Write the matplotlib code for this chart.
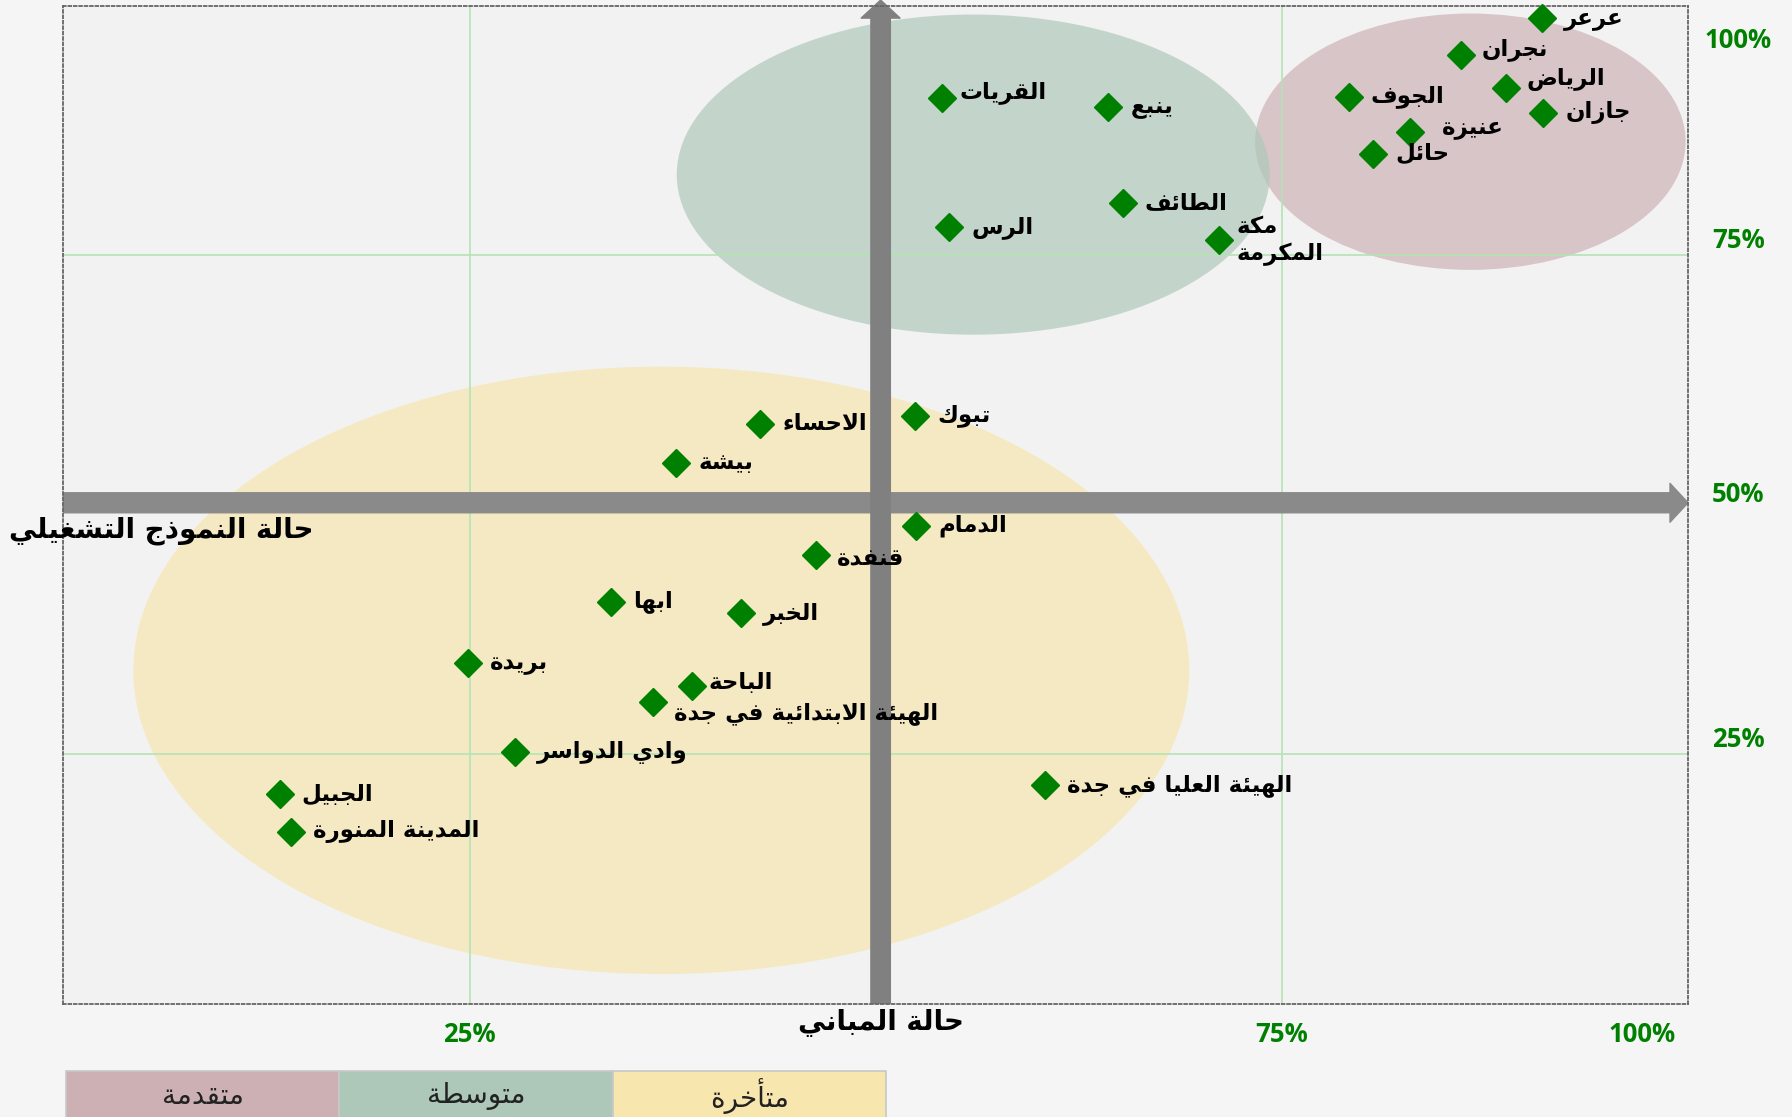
import matplotlib
matplotlib.use('Agg')
import matplotlib.pyplot as plt
from matplotlib.patches import Ellipse, Rectangle

# --- data: building status (x) vs operating model status (y), in %
cities = ['عرعر', 'نجران', 'الرياض', 'جازان', 'الجوف', 'عنيزة', 'حائل',
          'القريات', 'ينبع', 'الطائف', 'الرس', 'مكة\nالمكرمة',
          'تبوك', 'الاحساء', 'بيشة', 'الدمام', 'قنفدة', 'ابها', 'الخبر',
          'بريدة', 'الباحة', 'الهيئة الابتدائية في جدة', 'وادي الدواسر',
          'الجبيل', 'المدينة المنورة', 'الهيئة العليا في جدة']
buildings = [91.0, 86.0, 88.8, 91.1, 79.1, 82.9, 80.6,
             54.1, 64.3, 65.2, 54.5, 71.1,
             52.4, 42.9, 37.7, 52.5, 46.3, 33.7, 41.7,
             24.9, 38.7, 36.3, 27.8,
             13.3, 14.0, 60.4]
model = [98.8, 95.1, 91.8, 89.3, 90.9, 87.4, 85.2,
         90.8, 89.9, 80.3, 77.8, 76.5,
         58.9, 58.1, 54.2, 47.9, 45.0, 40.3, 39.1,
         34.1, 31.8, 30.2, 25.2,
         21.0, 17.2, 21.9]

groups = ['متقدمة', 'متوسطة', 'متأخرة']
group_colors = ['#cdb0b4', '#adc8b9', '#f7e6ae']
# group regions: centre x, centre y, width, height (%)
group_cx = [86.6, 56.0, 36.8]
group_cy = [86.4, 83.1, 33.4]
group_w = [26.5, 36.5, 65.0]
group_h = [25.7, 32.1, 60.9]

x_tick_vals = [25, 75, 97.2]
x_tick_text = ['25%', '75%', '100%']
y_tick_vals = [96.5, 76.5, 51.0, 26.5]
y_tick_text = ['100%', '75%', '50%', '25%']

x_title = 'حالة المباني'
y_title = 'حالة النموذج التشغيلي'

# label offsets in points (default is to the right of the marker)
label_offset = {'عنيزة': (23, 3), 'نجران': (15, 4), 'الرياض': (15, 6),
                'القريات': (12, 4), 'الباحة': (12, 3), 'قنفدة': (15, -3),
                'الهيئة الابتدائية في جدة': (15, -8), 'مكة\nالمكرمة': (13, 0)}

# --- minimal arabic shaping, matplotlib does no joining / rtl
BASE = {'ء': (0xFE80, 0), 'آ': (0xFE81, 1), 'أ': (0xFE83, 1), 'ؤ': (0xFE85, 1),
        'إ': (0xFE87, 1), 'ئ': (0xFE89, 2), 'ا': (0xFE8D, 1), 'ب': (0xFE8F, 2),
        'ة': (0xFE93, 1), 'ت': (0xFE95, 2), 'ث': (0xFE99, 2), 'ج': (0xFE9D, 2),
        'ح': (0xFEA1, 2), 'خ': (0xFEA5, 2), 'د': (0xFEA9, 1), 'ذ': (0xFEAB, 1),
        'ر': (0xFEAD, 1), 'ز': (0xFEAF, 1), 'س': (0xFEB1, 2), 'ش': (0xFEB5, 2),
        'ص': (0xFEB9, 2), 'ض': (0xFEBD, 2), 'ط': (0xFEC1, 2), 'ظ': (0xFEC5, 2),
        'ع': (0xFEC9, 2), 'غ': (0xFECD, 2), 'ف': (0xFED1, 2), 'ق': (0xFED5, 2),
        'ك': (0xFED9, 2), 'ل': (0xFEDD, 2), 'م': (0xFEE1, 2), 'ن': (0xFEE5, 2),
        'ه': (0xFEE9, 2), 'و': (0xFEED, 1), 'ى': (0xFEEF, 1), 'ي': (0xFEF1, 2)}
LAMALEF = {'آ': 0xFEF5, 'أ': 0xFEF7, 'إ': 0xFEF9, 'ا': 0xFEFB}


def shape_line(s):
    out = []
    i = 0
    while i < len(s):
        c = s[i]
        if c not in BASE:
            out.append(c)
            i += 1
            continue
        prev = s[i - 1] if i > 0 else ''
        jp = prev in BASE and BASE[prev][1] == 2
        if c == 'ل' and i + 1 < len(s) and s[i + 1] in LAMALEF:
            out.append(chr(LAMALEF[s[i + 1]] + (1 if jp else 0)))
            i += 2
            continue
        base, t = BASE[c]
        nxt = s[i + 1] if i + 1 < len(s) else ''
        jn = t == 2 and nxt in BASE
        if t == 0:
            f = base
        elif jp and jn:
            f = base + 3
        elif jp:
            f = base + 1
        elif jn:
            f = base + 2
        else:
            f = base
        out.append(chr(f))
        i += 1
    return ''.join(out)[::-1]


def ar(s):
    return '\n'.join(shape_line(l) for l in s.split('\n'))


fig = plt.figure(figsize=(17.92, 11.17), dpi=100, facecolor='#f5f5f5')
ax = fig.add_axes([0.0354, 0.1016, 0.9066, 0.893])
ax.set_facecolor('#f2f2f2')
ax.set_xlim(0, 100)
ax.set_ylim(0, 100)
ax.set_xticks([])
ax.set_yticks([])
for s in ax.spines.values():
    s.set_linestyle((0, (1.5, 1.5)))
    s.set_color('#666666')
    s.set_linewidth(1.3)

for cx, cy, w, h, col in zip(group_cx, group_cy, group_w, group_h, group_colors):
    ax.add_patch(Ellipse((cx, cy), w, h, facecolor=col, edgecolor='none',
                         alpha=0.68, zorder=1))

for v in [25, 75]:
    ax.axvline(v, color='#b5e3b5', lw=1.2, zorder=1.5)
    ax.axhline(v, color='#b5e3b5', lw=1.2, zorder=1.5)

# quadrant arrows
ax.annotate('', xy=(100, 50.2), xytext=(0, 50.2), annotation_clip=False,
            arrowprops=dict(arrowstyle='simple,head_width=1.4,head_length=0.65,tail_width=0.72',
                            mutation_scale=20, color='#8a8a8a', shrinkA=0, shrinkB=0),
            zorder=2)
ax.annotate('', xy=(50.3, 100.6), xytext=(50.3, 0), annotation_clip=False,
            arrowprops=dict(arrowstyle='simple,head_width=1.4,head_length=0.65,tail_width=0.7',
                            mutation_scale=20, color='#808080', shrinkA=0, shrinkB=0),
            zorder=2.1)

ax.plot(buildings, model, 'D', color='#008000', markersize=14.5, zorder=3,
        clip_on=False)

for name, bx, my in zip(cities, buildings, model):
    dx, dy = label_offset.get(name, (16, 0))
    ax.annotate(ar(name), (bx, my), xytext=(dx, dy), textcoords='offset points',
                ha='left', va='center', fontsize=16.5, fontweight='bold',
                family=['DejaVu Sans'], color='black', zorder=4,
                annotation_clip=False, linespacing=1.25)

for v, t in zip(x_tick_vals, x_tick_text):
    ax.text(v, -3.1, t, ha='center', va='center', fontsize=18.5,
            fontweight='bold', family=['Open Sans'], color='#008000',
            clip_on=False)
for v, t in zip(y_tick_vals, y_tick_text):
    ax.text(103.1, v, t, ha='center', va='center', fontsize=18.5,
            fontweight='bold', family=['Open Sans'], color='#008000',
            clip_on=False)

ax.text(50.3, -2.0, ar(x_title), ha='center', va='center', fontsize=20,
        fontweight='bold', family=['DejaVu Sans'], clip_on=False, zorder=4)
ax.text(15.4, 47.4, ar(y_title), ha='right', va='center', fontsize=20,
        fontweight='bold', family=['DejaVu Sans'], clip_on=False, zorder=4)

# legend boxes at the bottom
box_left = 0.0368
box_w = 0.1525
for i, (g, col) in enumerate(zip(groups, group_colors)):
    fig.add_artist(Rectangle((box_left + i * box_w, -0.01), box_w, 0.051,
                             facecolor=col, edgecolor='#c8c8c8', lw=1.2,
                             transform=fig.transFigure))
    fig.text(box_left + (i + 0.5) * box_w, 0.019, ar(g), ha='center',
             va='center', fontsize=20, family=['DejaVu Sans'], color='#222222')

fig.savefig('out.png', dpi=100, facecolor=fig.get_facecolor())
